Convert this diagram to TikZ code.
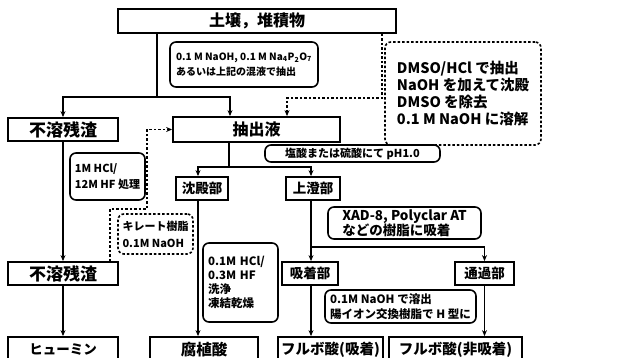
\documentclass[tikz,border=0pt]{standalone}
\usepackage{fontspec}
\setmainfont{Noto Sans CJK JP}
\usetikzlibrary{arrows.meta}
\newcommand{\fs}[1]{\fontsize{#1}{#1}\selectfont}
\tikzset{
 box/.style={draw, line width=1.8pt, inner sep=0pt, font=\bfseries\fs{16}},
 note/.style={draw, line width=1.6pt, rounded corners=6pt, inner sep=0pt, align=left, font=\bfseries\fontsize{11}{16}\selectfont},
 dnote/.style={note, dash pattern=on 2.5pt off 2pt},
 conn/.style={line width=1.2pt},
 arr/.style={conn, -{Stealth[length=6pt,width=5pt]}},
 darr/.style={arr, dash pattern=on 2.5pt off 2pt},
}
\begin{document}
\begin{tikzpicture}[x=1pt,y=-1pt]
\useasboundingbox (0,0) rectangle (621,358);
% boxes
\node[box, minimum width=278pt, minimum height=24pt] (T) at (257,21) {土壌，堆積物};
\node[note, minimum width=148pt, minimum height=45pt, font=\bfseries\fontsize{10}{15}\selectfont] (N1) at (244,64.5) {0.1 M NaOH, 0.1 M Na\textsubscript{4}P\textsubscript{2}O\textsubscript{7}\\あるいは上記の混液で抽出};
\node[dnote, minimum width=156pt, minimum height=103pt, font=\bfseries\fontsize{14.5}{16.7}\selectfont] (D) at (463,93.5) {DMSO/HCl で抽出\\NaOH を加えて沈殿\\DMSO を除去\\0.1 M NaOH に溶解};
\node[box, minimum width=110pt, minimum height=23pt, font=\bfseries\fs{17}] (A) at (63,129.5) {不溶残渣};
\node[box, minimum width=167pt, minimum height=25pt] (B) at (256.5,129.5) {抽出液};
\node[note, minimum width=75pt, minimum height=47pt] (H1) at (107.5,176.5) {1M HCl/\\12M HF 処理};
\node[dnote, minimum width=75pt, minimum height=40pt, font=\bfseries\fontsize{11}{17}\selectfont] (C) at (155.5,234) {キレート樹脂\\0.1M NaOH};
\node[box, minimum width=110pt, minimum height=23pt, font=\bfseries\fs{17}] (A2) at (63,273.5) {不溶残渣};
\node[box, minimum width=110pt, minimum height=25pt, font=\bfseries\fs{13.5}] (H) at (63,349.5) {ヒューミン};
\node[note, minimum width=175pt, minimum height=17pt, font=\bfseries\fs{11}] (Ac) at (352.5,153.5) {塩酸または硫酸にて pH1.0};
\node[box, minimum width=52pt, minimum height=23pt, font=\bfseries\fs{13.5}] (P) at (202,188.5) {沈殿部};
\node[box, minimum width=54pt, minimum height=23pt, font=\bfseries\fs{13.5}] (S) at (313,188.5) {上澄部};
\node[box, minimum width=108pt, minimum height=25pt, font=\bfseries\fs{15.5}] (F) at (204,349.5) {腐植酸};
\node[note, minimum width=75pt, text width=65pt, inner xsep=5pt, minimum height=79pt, font=\bfseries\fontsize{11.5}{14}\selectfont] (H2) at (240.5,282.5) {0.1M HCl/\\0.3M HF\\洗浄\\凍結乾燥};
\node[note, minimum width=153pt, minimum height=32pt, font=\bfseries\fontsize{13.5}{15}\selectfont] (X) at (404.5,223) {XAD-8, Polyclar AT\\などの樹脂に吸着};
\node[box, minimum width=56pt, minimum height=23pt, font=\bfseries\fs{13.5}] (Ad) at (310,273.5) {吸着部};
\node[box, minimum width=59pt, minimum height=23pt, font=\bfseries\fs{13.5}] (Th) at (484.5,273.5) {通過部};
\node[note, minimum width=151pt, minimum height=33pt, font=\bfseries\fontsize{11.5}{15}\selectfont] (E) at (400.5,306.5) {0.1M NaOH で溶出\\陽イオン交換樹脂で H 型に};
\node[box, minimum width=105pt, minimum height=25pt, font=\bfseries\fs{14.5}] (FA1) at (330.5,349.5) {フルボ酸(吸着)};
\node[box, minimum width=133pt, minimum height=25pt, font=\bfseries\fs{14.5}] (FA2) at (455.5,349.5) {フルボ酸(非吸着)};
% junctions
\coordinate (j1) at (157,97);
\coordinate (bx) at (230,0);
\coordinate (dx) at (382,98);
\coordinate (dx2) at (287,0);
\coordinate (c1) at (110,209);
\coordinate (c2) at (147,209);
\coordinate (j2) at (229,167);
\coordinate (px) at (198,0);
\coordinate (sx) at (311,0);
\coordinate (j3) at (311,247);
% connectors
\draw[conn] (T.south -| j1) -- (j1);
\draw[arr] (j1) -| (A.north);
\draw[arr] (j1) -| (B.north -| bx);
\draw[darr] (T.south -| dx) -- (dx) -| (B.north -| dx2);
\draw[arr] (A) -- (A2);
\draw[arr] (A2) -- (H);
\draw[darr] (A2.north -| c1) -- (c1) -- (c2) |- (B.west);
\draw[conn] (B.south -| j2) -- (j2);
\draw[arr] (j2) -| (P.north -| px);
\draw[arr] (j2) -| (S.north -| sx);
\draw[arr] (P.south -| px) -- (F.north -| px);
\draw[conn] (S.south -| j3) -- (j3);
\draw[arr] (j3) -- (Ad.north -| j3);
\draw[arr] (j3) -| (Th.north);
\draw[arr] (Ad.south -| j3) -- (FA1.north -| j3);
\draw[arr] (Th.south) -- (FA2.north -| Th.south);
\end{tikzpicture}
\end{document}
